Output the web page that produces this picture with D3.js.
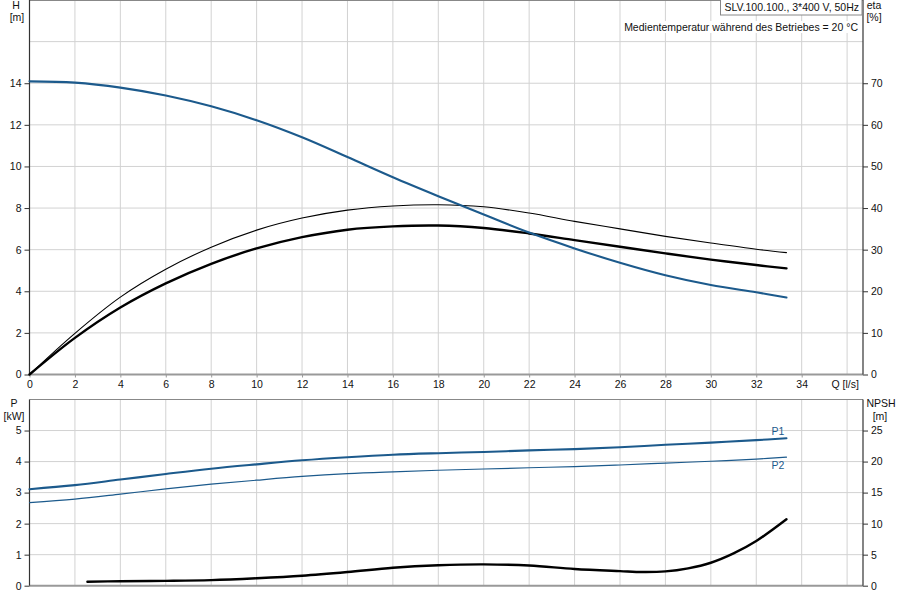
<!DOCTYPE html>
<html><head><meta charset="utf-8">
<script src="https://cdn.jsdelivr.net/npm/d3@7"></script>
<style>
body{margin:0;background:#fff;}
svg{display:block;font-family:"Liberation Sans",Arial,sans-serif;}
</style></head>
<body><svg id="c" width="900" height="600"></svg>
<script>
// ---- data ----
const qValues   = [0,2,4,6,8,10,12,14,16,18,20,22,24,26,28,30,32,33.33];
const headH     = [14.09,14.03,13.79,13.41,12.89,12.22,11.40,10.45,9.48,8.57,7.69,6.82,6.06,5.37,4.77,4.30,3.95,3.70];
const etaPump   = [0,9.9,18.6,25.3,30.6,34.7,37.6,39.5,40.5,40.8,40.3,38.8,36.8,35.0,33.2,31.6,30.1,29.3];
const etaTotal  = [0,8.8,16.1,21.9,26.6,30.3,33.0,34.8,35.6,35.8,35.2,33.9,32.3,30.7,29.1,27.6,26.3,25.5];
const powerP1   = [3.11,3.24,3.42,3.60,3.77,3.91,4.04,4.14,4.22,4.27,4.31,4.36,4.40,4.46,4.54,4.61,4.69,4.75];
const powerP2   = [2.68,2.79,2.95,3.12,3.27,3.40,3.52,3.61,3.67,3.72,3.76,3.80,3.84,3.89,3.95,4.01,4.08,4.14];
const npshQ     = [2.55,4,6,8,10,12,14,16,18,20,22,24,26,27,28,29,30,31,32,33.33];
const npshVal   = [0.64,0.72,0.78,0.9,1.2,1.6,2.2,2.9,3.3,3.44,3.25,2.7,2.35,2.2,2.3,2.8,3.7,5.2,7.2,10.7];
const qTicks    = [0,2,4,6,8,10,12,14,16,18,20,22,24,26,28,30,32,34];
const hTicks    = [0,2,4,6,8,10,12,14];
const etaTicks  = [0,10,20,30,40,50,60,70];
const pTicks    = [0,1,2,3,4,5];
const npshTicks = [0,5,10,15,20,25];
const title     = "SLV.100.100., 3*400 V, 50Hz";
const subtitle  = "Medientemperatur während des Betriebes = 20 °C";

const BLUE = "#1c5a8c";
const GRID = "#d2d2d2";
const FS = 10.5;
const svg = d3.select("#c");

const L = 29.5, R = 863;
const x = d3.scaleLinear([0,36.7],[L,R]);
const yH = d3.scaleLinear([0,18],[374.5,0]);
const yEta = d3.scaleLinear([0,90],[374.5,0]);
const yP = d3.scaleLinear([0,6],[585.7,399.5]);
const yN = d3.scaleLinear([0,30],[585.7,399.5]);

const gridQ = d3.range(2,37,2);

// ---- grids ----
const g = svg.append("g");
g.selectAll(".vt").data(gridQ).join("line")
  .attr("x1",d=>x(d)).attr("x2",d=>x(d)).attr("y1",yH(18)).attr("y2",yH(0))
  .attr("stroke",GRID).attr("stroke-width",1);
g.selectAll(".ht").data(d3.range(2,17,2)).join("line")
  .attr("x1",L).attr("x2",R).attr("y1",d=>yH(d)).attr("y2",d=>yH(d))
  .attr("stroke",GRID).attr("stroke-width",1);
g.selectAll(".vb").data(gridQ).join("line")
  .attr("x1",d=>x(d)).attr("x2",d=>x(d)).attr("y1",yP(6)).attr("y2",yP(0))
  .attr("stroke",GRID).attr("stroke-width",1);
g.selectAll(".hb").data([1,2,3,4,5]).join("line")
  .attr("x1",L).attr("x2",R).attr("y1",d=>yP(d)).attr("y2",d=>yP(d))
  .attr("stroke",GRID).attr("stroke-width",1);

// ---- frames ----
function frame(yTop,yBot){
  svg.append("line").attr("x1",L).attr("x2",R).attr("y1",yTop).attr("y2",yTop).attr("stroke","#888").attr("stroke-width",1.2);
  svg.append("line").attr("x1",L).attr("x2",R).attr("y1",yBot).attr("y2",yBot).attr("stroke","#999").attr("stroke-width",2);
}
frame(yH(18)+0.5,yH(0));
frame(yP(6),yP(0));

// ---- axes ----
function styleAxis(sel){
  sel.select(".domain").remove();
  sel.selectAll("line").attr("stroke","#333");
  sel.selectAll("text").attr("font-size",FS).attr("fill","#111")
     .attr("font-family","'Liberation Sans',Arial,sans-serif");
}
function vAxis(scale,ticks,side,yr){
  const ax = (side==="left"?d3.axisLeft(scale):d3.axisRight(scale))
     .tickValues(ticks).tickSize(5).tickPadding(3).tickFormat(d3.format("d"));
  const xpos = side==="left"?L:R;
  const s = svg.append("g").attr("transform",`translate(${xpos},0)`).call(ax);
  styleAxis(s);
  svg.append("line").attr("x1",xpos).attr("x2",xpos).attr("y1",yr[0]).attr("y2",yr[1])
     .attr("stroke","#333").attr("stroke-width",1.2);
}
vAxis(yH,hTicks,"left",[0,374.5]);
vAxis(yEta,etaTicks,"right",[0,374.5]);
vAxis(yP,pTicks,"left",[399.5,585.7]);
vAxis(yN,npshTicks,"right",[399.5,585.7]);

const xa = svg.append("g").attr("transform",`translate(0,${yH(0)})`)
  .call(d3.axisBottom(x).tickValues(qTicks).tickSize(3).tickPadding(3).tickFormat(d3.format("d")));
styleAxis(xa);
xa.selectAll("line").attr("stroke","#999");
svg.append("text").attr("x",x(36)-2).attr("y",388).attr("text-anchor","middle")
  .attr("font-size",FS).attr("fill","#111").text("Q [l/s]");

// ---- axis titles ----
function lbl(t,xx,yy){
  svg.append("text").attr("x",xx).attr("y",yy).attr("text-anchor","middle")
    .attr("font-size",FS).attr("fill","#111").text(t);
}
lbl("H",16,9); lbl("[m]",17,21);
lbl("eta",874,9); lbl("[%]",874,21);
lbl("P",14,407); lbl("[kW]",14,420);
lbl("NPSH",881,407); lbl("[m]",880,420);

// ---- title box ----
svg.append("rect").attr("x",720.5).attr("y",-1).attr("width",141.5).attr("height",16)
  .attr("fill","#fff").attr("stroke","#888");
svg.append("text").attr("x",724.5).attr("y",11).attr("font-size",FS).attr("fill","#111").text(title);
const subBg = svg.append("rect").attr("fill","#fff");
const sub = svg.append("text").attr("x",858).attr("y",31).attr("text-anchor","end")
  .attr("font-size",FS).attr("fill","#111").text(subtitle);
const bb = sub.node().getBBox();
subBg.attr("x",bb.x-2).attr("y",bb.y).attr("width",bb.width+4).attr("height",bb.height);

// ---- curves ----
function curve(xs,ys,ysc,color,w){
  const line = d3.line().x((d,i)=>x(xs[i])).y(d=>ysc(d)).curve(d3.curveCatmullRom.alpha(0.5));
  svg.append("path").attr("d",line(ys)).attr("fill","none")
    .attr("stroke",color).attr("stroke-width",w).attr("stroke-linecap","round");
}
curve(qValues,etaPump,yEta,"#000",1.1);
curve(qValues,etaTotal,yEta,"#000",2.4);
curve(qValues,headH,yH,BLUE,2.1);
curve(qValues,powerP1,yP,BLUE,2.1);
curve(qValues,powerP2,yP,BLUE,1.2);
curve(npshQ,npshVal,yN,"#000",2.4);

svg.append("text").attr("x",778).attr("y",435).attr("text-anchor","middle")
  .attr("font-size",FS).attr("fill",BLUE).text("P1");
svg.append("text").attr("x",778).attr("y",469).attr("text-anchor","middle")
  .attr("font-size",FS).attr("fill",BLUE).text("P2");
</script></body></html>
